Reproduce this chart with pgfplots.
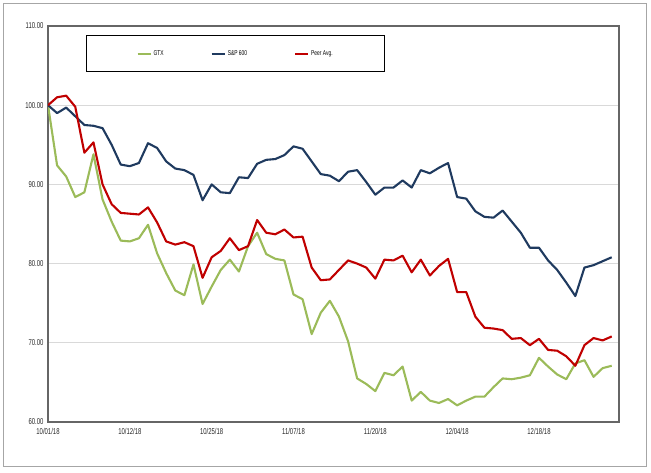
\documentclass[border=0pt]{standalone}
\usepackage{pgfplots}
\pgfplotsset{compat=1.18}
\usepackage{fontspec}
\setmainfont{Liberation Sans}
\usepackage{graphicx}
\definecolor{gtx}{HTML}{9BBB59}
\definecolor{sp}{HTML}{1F3A5F}
\definecolor{peer}{HTML}{C00000}
\newcommand{\nar}[1]{\scalebox{0.7}[1]{#1}}
\begin{document}
\begin{tikzpicture}[x=1pt,y=1pt]
\useasboundingbox (0,0) rectangle (651,473);
\draw[color=black!35, line width=1pt] (3,6) rectangle (646,469);
\begin{axis}[
  at={(48pt,51pt)}, anchor=south west,
  scale only axis, width=571pt, height=396pt,
  xmin=0, xmax=62.8, ymin=60, ymax=110,
  ytick={60,70,80,90,100,110},
  yticklabels={\nar{60.00},\nar{70.00},\nar{80.00},\nar{90.00},\nar{100.00},\nar{110.00}},
  xtick={0,9,18,27,36,45,54},
  xticklabels={\nar{10/01/18},\nar{10/12/18},\nar{10/25/18},\nar{11/07/18},\nar{11/20/18},\nar{12/04/18},\nar{12/18/18}},
  ticklabel style={font=\fontsize{8.5}{9}\selectfont, text=black!85},
  yticklabel style={xshift=-1pt},
  xticklabel style={yshift=-3pt},
  tick style={draw=none},
  ymajorgrids, grid style={color=black!15, line width=0.8pt},
  axis line style={draw=black!60, line width=1.3pt},
  legend columns=3,
  legend style={at={(0.0666,0.977)}, anchor=north west, draw=black, line width=0.9pt,
    font=\fontsize{7}{7}\selectfont, inner xsep=50pt, inner ysep=13pt,
    /tikz/every even column/.append style={column sep=45pt}},
  legend image code/.code={\draw[#1] (0pt,0pt) -- (13pt,0pt);},
  every axis plot/.append style={line width=2.1pt, line join=round},
]
\addplot[color=gtx] coordinates {
(0,100)(1,92.4)(2,91.0)(3,88.4)(4,89.0)(5,93.8)(6,88.1)(7,85.3)(8,82.9)(9,82.8)
(10,83.2)(11,84.9)(12,81.3)(13,78.8)(14,76.6)(15,76.0)(16,79.9)(17,74.9)(18,77.1)(19,79.2)
(20,80.5)(21,79.0)(22,82.2)(23,83.9)(24,81.2)(25,80.6)(26,80.4)(27,76.1)(28,75.5)(29,71.1)
(30,73.8)(31,75.3)(32,73.3)(33,70.2)(34,65.5)(35,64.8)(36,63.9)(37,66.2)(38,65.9)(39,67.0)
(40,62.7)(41,63.8)(42,62.7)(43,62.4)(44,62.9)(45,62.1)(46,62.7)(47,63.2)(48,63.2)(49,64.4)
(50,65.5)(51,65.4)(52,65.6)(53,65.9)(54,68.1)(55,67.0)(56,66.0)(57,65.4)(58,67.4)(59,67.8)
(60,65.7)(61,66.8)(62,67.1)};
\addlegendentry{\nar{GTX}}
\addplot[color=sp] coordinates {
(0,100)(1,99.0)(2,99.7)(3,98.6)(4,97.5)(5,97.4)(6,97.1)(7,95.0)(8,92.5)(9,92.3)
(10,92.7)(11,95.2)(12,94.6)(13,92.9)(14,92.0)(15,91.8)(16,91.2)(17,88.0)(18,90.0)(19,89.0)
(20,88.9)(21,90.9)(22,90.8)(23,92.6)(24,93.1)(25,93.2)(26,93.7)(27,94.8)(28,94.5)(29,92.9)
(30,91.3)(31,91.1)(32,90.4)(33,91.6)(34,91.8)(35,90.3)(36,88.7)(37,89.6)(38,89.6)(39,90.5)
(40,89.6)(41,91.8)(42,91.4)(43,92.1)(44,92.7)(45,88.4)(46,88.2)(47,86.6)(48,85.9)(49,85.8)
(50,86.7)(51,85.3)(52,83.9)(53,82.0)(54,82.0)(55,80.4)(56,79.2)(57,77.6)(58,75.9)(59,79.5)
(60,79.8)(61,80.3)(62,80.8)};
\addlegendentry{\nar{S\&P 600}}
\addplot[color=peer] coordinates {
(0,100)(1,101.0)(2,101.2)(3,99.8)(4,94.0)(5,95.3)(6,90.0)(7,87.5)(8,86.4)(9,86.3)
(10,86.2)(11,87.1)(12,85.2)(13,82.8)(14,82.4)(15,82.7)(16,82.2)(17,78.2)(18,80.8)(19,81.6)
(20,83.2)(21,81.7)(22,82.2)(23,85.5)(24,83.9)(25,83.7)(26,84.3)(27,83.3)(28,83.4)(29,79.5)
(30,77.9)(31,78.0)(32,79.2)(33,80.4)(34,80.0)(35,79.5)(36,78.1)(37,80.5)(38,80.4)(39,81.0)
(40,78.9)(41,80.5)(42,78.5)(43,79.7)(44,80.6)(45,76.4)(46,76.4)(47,73.3)(48,71.9)(49,71.8)
(50,71.6)(51,70.5)(52,70.6)(53,69.7)(54,70.5)(55,69.1)(56,69.0)(57,68.3)(58,67.1)(59,69.7)
(60,70.6)(61,70.3)(62,70.8)};
\addlegendentry{\nar{Peer Avg.}}
\end{axis}
\end{tikzpicture}
\end{document}
